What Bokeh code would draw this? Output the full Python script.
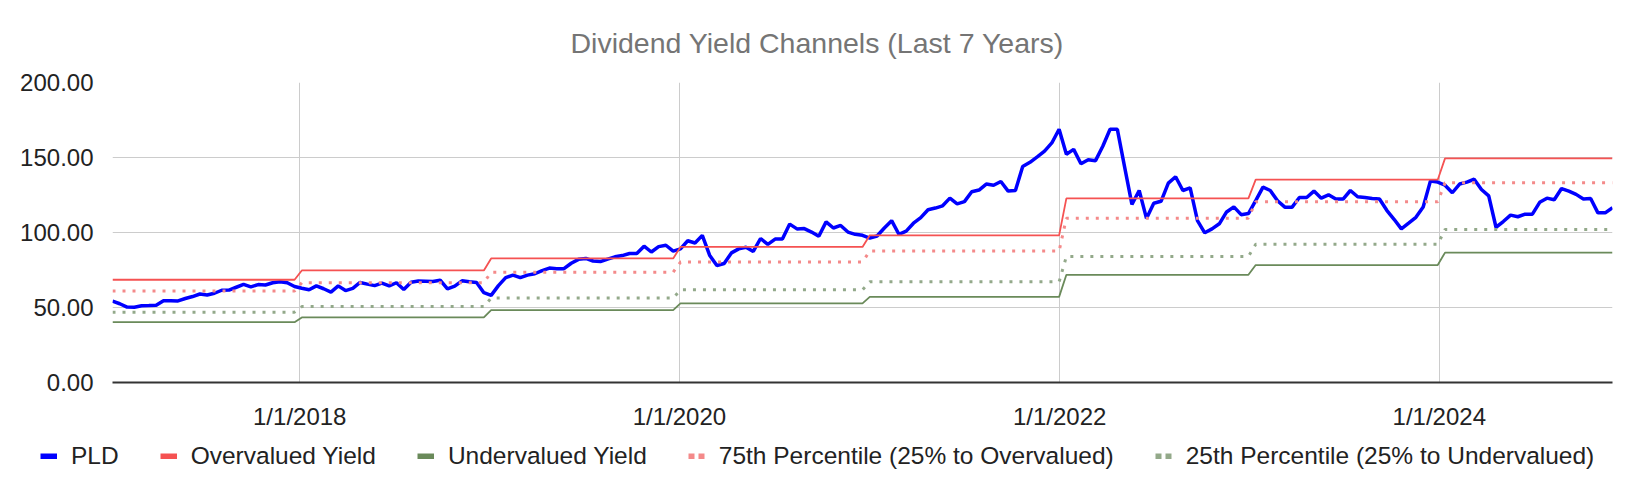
import pandas as pd
from bokeh.plotting import figure
from bokeh.layouts import column, row
from bokeh.models import (ColumnDataSource, Range1d, FixedTicker, CustomJSTickFormatter,
                          PrintfTickFormatter, Legend, LegendItem)
from bokeh.embed import file_html
from bokeh.resources import INLINE

TITLE = "Dividend Yield Channels (Last 7 Years)"
START_DATE = "2017-01-06"   # bi-weekly observations
PLD = [
    54.3, 52.5, 50.3, 50.2, 51.2, 51.3, 51.5, 54.5, 54.5, 54.4,
    56.0, 57.3, 59.0, 58.3, 59.5, 61.5, 61.6, 63.5, 65.4, 63.7,
    65.3, 65.0, 66.5, 67.2, 66.5, 64.0, 62.8, 61.8, 64.4, 62.5,
    60.3, 64.4, 61.3, 62.8, 66.7, 65.6, 64.6, 66.3, 64.4, 66.5,
    62.0, 66.9, 67.6, 67.5, 67.4, 68.2, 62.4, 64.2, 67.8, 67.1,
    66.7, 59.9, 58.1, 64.6, 69.9, 71.6, 69.9, 71.6, 72.5, 74.6,
    76.3, 75.9, 75.9, 79.5, 82.1, 82.7, 81.0, 80.6, 82.3, 83.8,
    84.6, 86.0, 86.0, 90.9, 87.0, 90.6, 91.5, 87.6, 89.1, 94.5,
    93.0, 98.1, 84.9, 78.0, 79.3, 86.4, 89.1, 90.2, 87.4, 96.0,
    92.1, 95.6, 95.6, 105.6, 102.4, 102.6, 100.3, 97.5, 107.1, 103.0,
    104.7, 100.3, 98.8, 98.1, 96.3, 97.7, 103.0, 107.9, 98.8, 100.9,
    106.2, 109.9, 115.2, 116.3, 117.8, 122.9, 119.1, 120.6, 127.2, 128.3,
    132.3, 131.5, 134.0, 127.6, 128.0, 144.0, 146.8, 150.4, 154.3, 159.7,
    168.8, 152.2, 155.4, 145.8, 148.5, 147.9, 157.5, 168.8, 168.8, 143.6,
    118.7, 128.0, 109.4, 119.5, 120.8, 132.9, 137.2, 128.0, 129.7, 107.9,
    99.8, 102.4, 105.8, 113.7, 117.1, 111.9, 112.6, 121.2, 130.2, 128.0,
    121.2, 116.9, 116.9, 123.3, 123.3, 127.6, 122.9, 125.1, 122.3, 122.3,
    128.0, 123.8, 123.3, 122.7, 122.3, 114.8, 108.8, 102.4, 106.2, 110.1,
    117.0, 134.4, 133.6, 131.5, 126.5, 132.3, 133.6, 135.5, 128.7, 124.4,
    103.5, 107.3, 111.6, 110.5, 112.2, 112.2, 120.1, 122.9, 121.8, 129.3,
    127.6, 125.4, 122.3, 122.7, 113.1, 113.1, 116.5,
]
YEARS = [2017, 2018, 2019, 2020, 2021, 2022, 2023, 2024]
OVERVALUED = [68.5, 74.7, 82.7, 90.4, 98.1, 122.8, 135.2, 149.4]
UNDERVALUED = [40.2, 43.4, 48.3, 52.8, 57.1, 71.8, 78.3, 86.6]
P75 = [61.0, 66.5, 73.5, 80.3, 87.6, 109.5, 120.5, 133.1]
P25 = [46.9, 50.6, 56.3, 61.8, 67.1, 84.0, 92.1, 102.0]
SERIES = ["PLD", "Overvalued Yield", "Undervalued Yield",
          "75th Percentile (25% to Overvalued)", "25th Percentile (25% to Undervalued)"]
X_TICK_DATES = ["2018-01-01", "2020-01-01", "2022-01-01", "2024-01-01"]
X_TICK_LABELS = ["1/1/2018", "1/1/2020", "1/1/2022", "1/1/2024"]
Y_TICKS = [0, 50, 100, 150, 200]

FONT = "Liberation Sans"
C_PLD = "#0000ff"
C_OVER = "#f55252"
C_UNDER = "#6a8a5a"
C_P75 = "#f48a8a"
C_P25 = "#93a98a"

dates = pd.date_range(START_DATE, periods=len(PLD), freq="14D")
yi = {y: i for i, y in enumerate(YEARS)}
idx = [yi[d.year] for d in dates]
src = ColumnDataSource(dict(
    x=dates, pld=PLD,
    over=[OVERVALUED[i] for i in idx], under=[UNDERVALUED[i] for i in idx],
    p75=[P75[i] for i in idx], p25=[P25[i] for i in idx],
))

W = 1628
p = figure(width=W, height=432, x_axis_type="datetime", output_backend="svg",
           toolbar_location=None,
           x_range=Range1d(dates[0].to_pydatetime(), dates[-1].to_pydatetime()),
           y_range=Range1d(0, 200),
           min_border_left=112, min_border_right=16, min_border_top=80, min_border_bottom=40)
p.outline_line_color = None
p.background_fill_color = "white"

p.title.text = TITLE
p.title.align = "left"
p.title.offset = 458
p.title.standoff = 48
p.title.text_font = FONT
p.title.text_font_size = "28.5px"
p.title.text_font_style = "normal"
p.title.text_color = "#757575"

tick_ms = [pd.Timestamp(d).value / 1e6 for d in X_TICK_DATES]
p.xaxis.ticker = FixedTicker(ticks=tick_ms)
p.xaxis.formatter = CustomJSTickFormatter(
    args=dict(tvals=tick_ms, labs=X_TICK_LABELS),
    code="const i = tvals.indexOf(tick); return i >= 0 ? labs[i] : '';")
p.xaxis.axis_line_color = "#333333"
p.xaxis.axis_line_width = 2
p.yaxis.axis_line_color = None
for ax in (p.xaxis, p.yaxis):
    ax.major_tick_line_color = None
    ax.minor_tick_line_color = None
    ax.major_label_text_font = FONT
    ax.major_label_text_font_size = "24px"
    ax.major_label_text_color = "#222222"
p.xaxis.major_label_standoff = 14
p.yaxis.major_label_standoff = 13
p.yaxis.ticker = FixedTicker(ticks=Y_TICKS)
p.yaxis.formatter = PrintfTickFormatter(format="%.2f")
p.xgrid.ticker = FixedTicker(ticks=tick_ms)
p.xgrid.grid_line_color = "#cccccc"
p.ygrid.grid_line_color = "#cccccc"

p.line("x", "pld", source=src, line_color=C_PLD, line_width=3.5)
p.line("x", "over", source=src, line_color=C_OVER, line_width=1.8)
p.line("x", "under", source=src, line_color=C_UNDER, line_width=1.8)
p.line("x", "p75", source=src, line_color=C_P75, line_width=3, line_dash="3 7")
p.line("x", "p25", source=src, line_color=C_P25, line_width=3, line_dash="3 7")

# legend strip below the chart
lg = figure(width=W, height=54, output_backend="svg", toolbar_location=None,
            x_axis_location=None, y_axis_location=None,
            x_range=Range1d(0, 1), y_range=Range1d(0, 1),
            min_border_left=0, min_border_right=0, min_border_top=0, min_border_bottom=0)
lg.outline_line_color = None
lg.xgrid.visible = False
lg.ygrid.visible = False
nan = float("nan")
styles = [(C_PLD, "solid"), (C_OVER, "solid"), (C_UNDER, "solid"), (C_P75, "6 4"), (C_P25, "6 4")]
items = []
for name, (c, d) in zip(SERIES, styles):
    r = lg.line([nan], [nan], line_color=c, line_width=6, line_dash=d)
    items.append(LegendItem(label=name, renderers=[r]))
legend = Legend(items=items, orientation="horizontal", location=(40, 16),
                glyph_width=17, glyph_height=6, label_standoff=14, spacing=41,
                padding=0, margin=0, border_line_color=None, background_fill_alpha=0,
                label_text_font=FONT, label_text_font_size="24.5px", label_text_color="#222222")
lg.add_layout(legend)

open("out.html", "w").write(file_html(column(p, row(lg), spacing=0), INLINE))
